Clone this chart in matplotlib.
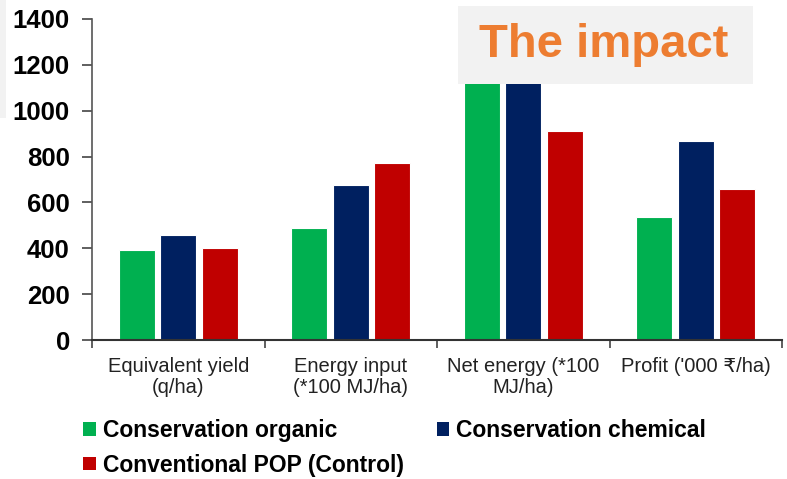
import matplotlib
matplotlib.use("Agg")
import matplotlib.pyplot as plt
import numpy as np
from matplotlib.patches import Rectangle, Patch

plt.rcParams['font.family'] = ['Liberation Sans', 'DejaVu Sans']

categories = ["Equivalent yield\n(q/ha)", "Energy input\n(*100 MJ/ha)",
              "Net energy (*100\nMJ/ha)", "Profit ('000 ₹/ha)"]
series_names = ["Conservation organic", "Conservation chemical", "Conventional POP (Control)"]
organic = [393, 489, 1250, 535]
chemical = [456, 674, 1300, 866]
conventional = [400, 770, 910, 659]
colors = ["#00B050", "#002060", "#C00000"]
yticks = [0, 200, 400, 600, 800, 1000, 1200, 1400]

fig = plt.figure(figsize=(7.87, 4.79), dpi=100)
ax = fig.add_axes([92/787, 1-340/479, (782-92)/787, (340-19)/479])

x = np.arange(len(categories))
w = 0.209
step = 0.24
for i, (vals, c) in enumerate(zip([organic, chemical, conventional], colors)):
    ax.bar(x + (i-1)*step, vals, width=w, color=c, edgecolor="white", linewidth=0.8, zorder=2)

ax.set_xlim(-0.5, len(categories)-0.5)
ax.set_ylim(0, 1400)
ax.set_yticks(yticks)
ax.set_yticklabels([str(v) for v in yticks], fontsize=18.5, fontweight='bold')
ax.set_xticks(x)
ax.set_xticklabels(categories, fontsize=14.5, color="#222222", linespacing=1.15)
ax.tick_params(axis='x', which='major', length=0, pad=12)
ax.set_xticks(np.arange(-0.5, len(categories)), minor=True)
ax.tick_params(axis='x', which='minor', length=6, width=1.2, color="#444444", direction='out')
ax.tick_params(axis='y', length=7, width=1.2, color="#444444", direction='out', pad=9)
for s in ['top', 'right']:
    ax.spines[s].set_visible(False)
ax.spines['left'].set_color("#555555")
ax.spines['left'].set_linewidth(1.2)
ax.spines['bottom'].set_color("#333333")
ax.spines['bottom'].set_linewidth(1.5)

# title box
fig.patches.append(Rectangle((458/787, 1-84/479), (753-458)/787, (84-6)/479,
                             transform=fig.transFigure, facecolor="#F2F2F2",
                             edgecolor="none", zorder=5))
fig.text(604/787, 1-45/479, "The impact", color="#ED7D31", fontsize=34,
         fontweight='bold', ha='center', va='center', zorder=6)
# left gray strip
fig.patches.append(Rectangle((0, 1-118/479), 6/787, 118/479, transform=fig.transFigure,
                             facecolor="#F2F2F2", edgecolor="none", zorder=0))

handles = [Patch(facecolor=colors[0]), Patch(facecolor=colors[2]), Patch(facecolor=colors[1])]
labels = [series_names[0], series_names[2], series_names[1]]
fig.legend(handles, labels, ncol=2, loc='upper left', bbox_to_anchor=(74/787, 1-410/479),
           frameon=False, prop={'weight': 'bold', 'size': 16.5},
           handlelength=0.55, handleheight=0.55, handletextpad=0.3, columnspacing=1.45,
           labelspacing=0.5, borderaxespad=0)

fig.savefig("out.png", dpi=100)
